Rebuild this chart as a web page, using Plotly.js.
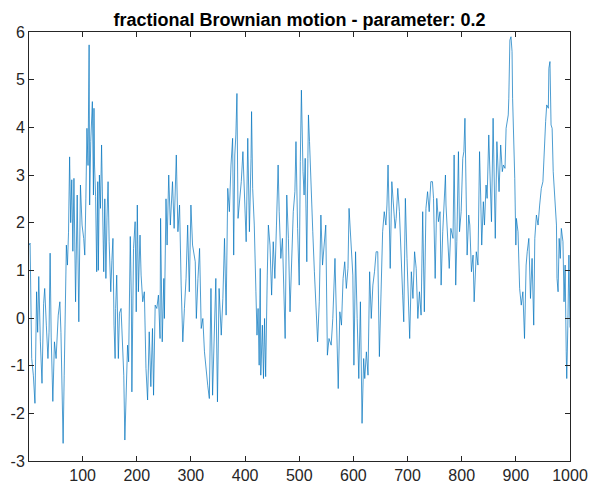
<!DOCTYPE html>
<html>
<head>
<meta charset="utf-8">
<script src="https://cdn.plot.ly/plotly-3.0.1.min.js"></script>
<style>html,body{margin:0;padding:0;background:#fff;}#chart{width:589px;height:489px;}</style>
</head>
<body>
<div id="chart"></div>
<script>
// Sample positions (time step index)
const steps = [1,3,6,9,12,15,17,19,22,25,28,30,33,36,38,40,42,45,48,51,55,58,60,62,64,66,68,70,72,74,76,78,80,82,84,87,90,93,96,99,102,104,106,108,110,112,113,115,118,120,121,122,124,126,128,129,131,133,135,137,139,141,143,145,147,149,152,154,156,158,160,161,163,166,168,171,174,176,178,180,183,185,188,190,191,194,197,199,201,203,206,208,211,214,217,220,223,226,229,231,234,237,240,243,244,247,250,251,253,254,256,259,262,266,269,273,276,279,282,285,288,291,294,297,300,303,308,310,313,316,319,322,325,328,331,334,337,340,343,346,349,352,356,359,362,365,368,371,374,377,379,381,383,385,387,390,393,396,399,402,405,408,411,412,414,417,420,422,424,426,428,429,432,434,436,438,441,443,446,449,452,455,458,461,463,466,469,472,474,477,480,483,486,489,492,494,497,500,502,504,507,509,511,514,516,517,519,522,525,528,531,534,537,540,543,546,549,552,555,559,562,566,569,572,575,578,581,584,587,590,592,595,599,601,604,607,610,613,615,616,619,621,624,627,630,633,636,639,642,645,648,651,654,657,660,662,664,666,668,671,674,677,679,682,685,688,691,693,696,699,702,704,707,710,713,716,719,722,725,728,731,734,737,740,743,746,748,751,754,757,760,762,765,768,770,771,774,777,780,784,786,789,791,794,796,799,802,804,806,808,810,813,815,818,821,823,825,827,830,833,835,837,840,842,845,847,850,852,855,858,860,862,865,867,869,872,875,877,880,882,884,886,887,889,891,893,894,896,898,900,901,904,907,910,913,916,919,921,924,927,930,933,935,938,941,944,947,950,952,955,957,960,961,963,965,967,969,972,975,976,978,980,982,984,987,989,991,993,994,996,998,1000];
// fBm values
const fbm = [1.53,1.57,-0.85,-1.2,-1.79,0.55,-0.3,0.87,-0.5,-1.37,0.3,0.62,-0.15,-0.85,-0.3,1.36,-0.4,-1.75,-0.5,-0.85,0.06,0.34,-0.3,-1.97,-2.63,-1.2,0.2,1.53,1.11,1.8,3.38,2.0,2.9,1.4,2.93,0.34,2.58,-0.08,2.79,1.95,1.67,1.32,2.5,3.98,3.2,5.73,2.37,3.7,4.54,2.58,4.4,3.21,2.55,0.97,2.86,1.0,3.0,2.3,3.63,2.2,0.97,2.5,0.83,2.1,2.86,1.6,0.55,1.2,1.67,-0.15,-0.85,0.2,0.9,-0.85,0.1,0.2,-0.85,-1.2,-2.56,-1.69,-0.57,-0.92,1.71,0.4,-1.55,1.46,2.02,0.13,2.37,0.55,1.74,0.9,0.34,0.55,-1.06,-1.72,-0.29,-1.44,-0.22,-1.62,0.27,0.2,0.48,-0.43,2.09,-0.5,0.83,-0.01,2.44,2.5,1.53,3.0,1.95,2.86,1.88,3.42,1.81,2.37,0.69,-0.5,0.2,0.83,1.95,0.55,2.37,1.53,1.18,-0.01,0.83,1.46,-0.22,-0.01,-0.71,-1.13,-1.41,-1.69,0.62,-1.62,-0.15,0.83,-1.76,0.62,-0.36,0.41,1.67,0.06,2.72,2.23,3.21,3.77,1.32,3.42,3.84,4.71,2.09,2.44,2.86,3.49,2.65,1.6,3.77,1.81,3.35,4.33,2.72,1.95,0.55,-0.36,0.2,-0.99,1.04,-1.2,-0.15,-1.27,-0.01,-1.23,0.9,1.95,1.53,0.48,1.6,0.83,1.95,3.21,2.23,1.25,1.67,0.55,-0.43,2.58,1.67,0.13,1.32,2.23,2.65,3.7,1.88,0.69,3.28,4.78,3.07,2.58,3.35,1.18,3.35,4.26,3.7,2.51,1.81,0.97,0.13,-0.5,0.34,2.16,1.11,1.53,1.95,-0.78,-0.43,-0.57,-0.01,1.25,-0.43,-1.48,0.13,-0.15,0.83,1.18,0.62,1.04,2.3,1.6,0.9,-0.99,1.39,-0.01,-1.27,0.34,-1.76,-2.21,-0.85,-1.27,-0.71,-1.2,0.97,-0.01,0.69,0.97,1.39,1.39,-0.81,0.27,1.81,2.23,1.95,2.37,3.21,2.23,1.04,2.86,2.37,1.88,2.09,2.72,2.23,1.11,0.48,-0.08,2.51,1.25,0.2,-0.43,0.97,0.41,1.39,1.04,-0.01,0.55,0.06,2.23,0.13,2.3,2.65,2.23,2.86,2.86,2.51,0.83,2.51,2.02,2.23,0.69,1.81,2.37,3.0,2.37,1.67,1.04,1.88,1.67,3.42,0.69,1.6,3.49,1.81,2.23,3.35,3.49,4.19,2.93,1.32,2.16,1.95,0.97,1.32,0.34,0.97,1.39,1.11,3.49,2.58,1.53,2.44,1.95,2.79,2.51,3.84,3.0,2.02,4.19,2.93,1.67,3.7,3.21,2.65,3.63,3.07,3.21,3.14,3.98,4.19,4.26,4.61,5.83,5.9,5.59,4.61,3.91,2.93,1.53,2.09,1.81,0.62,0.27,0.55,-0.43,1.11,1.39,1.67,0.41,1.25,-0.15,1.67,2.16,1.95,2.37,2.72,2.86,3.56,4.12,4.47,4.4,5.24,5.38,4.05,3.98,3.07,2.51,1.95,0.83,0.55,1.67,1.25,1.88,1.6,0.34,1.11,-0.71,-1.27,-0.15,1.32,-0.2];
const xTicks = [100,200,300,400,500,600,700,800,900,1000];
const yTicks = [-3,-2,-1,0,1,2,3,4,5,6];
const titleText = 'fractional Brownian motion - parameter: 0.2';

const axisCommon = {
  showgrid: false, zeroline: false, showline: true, linecolor: '#262626', linewidth: 1,
  mirror: 'ticks', ticks: 'inside', ticklen: 5, tickwidth: 1, tickcolor: '#262626',
  tickfont: {family: 'Liberation Sans, Arial, sans-serif', size: 16, color: '#262626'}
};

Plotly.newPlot('chart', [{
  x: steps, y: fbm, type: 'scatter', mode: 'lines',
  line: {color: '#0072BD', width: 0.7}, hoverinfo: 'skip'
}], {
  width: 589, height: 489,
  margin: {l: 29, r: 19, t: 32, b: 28},
  paper_bgcolor: '#ffffff', plot_bgcolor: '#ffffff',
  showlegend: false,
  title: {text: '<b>' + titleText + '</b>', xref: 'paper', x: 0.5, xanchor: 'center', y: 0.960, yanchor: 'middle',
          font: {family: 'Liberation Sans, Arial, sans-serif', size: 18, color: '#000000'}},
  xaxis: Object.assign({}, axisCommon, {range: [1, 1000], tickvals: xTicks, ticktext: xTicks.map(String)}),
  yaxis: Object.assign({}, axisCommon, {range: [-3, 6], tickvals: yTicks, ticktext: yTicks.map(String)})
}, {displayModeBar: false, staticPlot: true});
</script>
</body>
</html>
